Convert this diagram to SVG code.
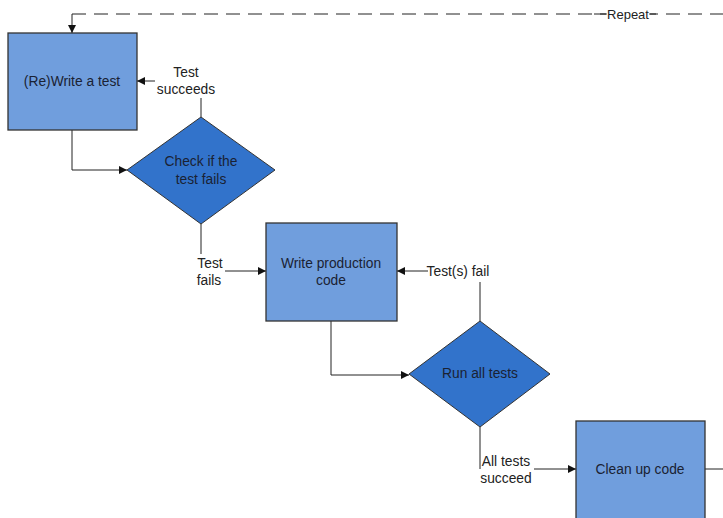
<svg xmlns="http://www.w3.org/2000/svg" width="723" height="518" viewBox="0 0 723 518">
<style>
.box{fill:#709EDD;stroke:#333;stroke-width:1.3}
.dia{fill:#3273CB;stroke:#333;stroke-width:1}
.t{font-family:"Liberation Sans",Arial,sans-serif;font-size:13.8px;fill:#1a2233;text-anchor:middle}
.l{font-family:"Liberation Sans",Arial,sans-serif;font-size:13.8px;fill:#222;text-anchor:middle}
.c{fill:none;stroke:#222;stroke-width:1}
</style>
<defs>
<marker id="a" viewBox="0 0 10 10" refX="10" refY="5" markerWidth="8" markerHeight="8" markerUnits="userSpaceOnUse" orient="auto">
<path d="M0,0 L10,5 L0,10 z" fill="#111"/>
</marker>
</defs>
<rect width="723" height="518" fill="#fff"/>
<g id="connectors">
<path class="c" d="M72,14 H723" stroke-dasharray="14,8"/>
<path class="c" d="M72,14 V33" marker-end="url(#a)"/>
<path class="c" d="M155,81 H137" marker-end="url(#a)"/>
<path class="c" d="M201,117 V98"/>
<path class="c" d="M72,130 V170 H127" marker-end="url(#a)"/>
<path class="c" d="M201,224 V254"/>
<path class="c" d="M225,271 H266" marker-end="url(#a)"/>
<path class="c" d="M428,271 H397" marker-end="url(#a)"/>
<path class="c" d="M480,321 V282"/>
<path class="c" d="M331,321 V375 H409" marker-end="url(#a)"/>
<path class="c" d="M480,427 V469"/>
<path class="c" d="M534,469 H576" marker-end="url(#a)"/>
<path class="c" d="M705,469 H723"/>
<rect x="606.5" y="6" width="43" height="16" fill="#fff"/>
<text class="l" x="628" y="18.5" style="font-size:13px">Repeat</text>
<path class="c" d="M594,14 H606.5 M649.5,14 H656"/>
<text class="l" x="186" y="77">Test</text>
<text class="l" x="186" y="94">succeeds</text>
<text class="l" x="210" y="268">Test</text>
<text class="l" x="209" y="285">fails</text>
<text class="l" x="458" y="276">Test(s) fail</text>
<text class="l" x="506" y="466">All tests</text>
<text class="l" x="506" y="483">succeed</text>
</g>
<g id="n1"><rect class="box" x="8" y="33" width="129" height="97"/><text class="t" x="72" y="86">(Re)Write a test</text></g>
<g id="n2"><polygon class="dia" points="201,117 275,170 201,224 127,170"/><text class="t" x="201" y="166">Check if the</text><text class="t" x="201" y="184">test fails</text></g>
<g id="n3"><rect class="box" x="266" y="223" width="131" height="98"/><text class="t" x="331" y="268">Write production</text><text class="t" x="331" y="285">code</text></g>
<g id="n4"><polygon class="dia" points="480,321 550,374 480,427 409,374"/><text class="t" x="480" y="378">Run all tests</text></g>
<g id="n5"><rect class="box" x="576" y="421" width="129" height="110"/><text class="t" x="640" y="474">Clean up code</text></g>
</svg>
